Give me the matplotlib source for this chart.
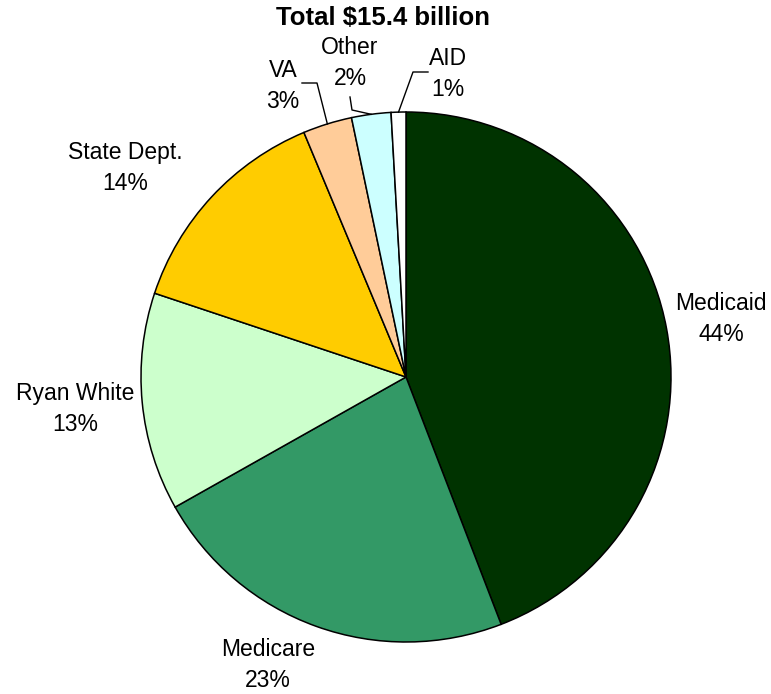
import numpy as np
import matplotlib
matplotlib.use("Agg")
import matplotlib.pyplot as plt

plt.rcParams['font.family'] = ['Liberation Sans', 'DejaVu Sans']

title = "Total $15.4 billion"
categories = ["Medicaid", "Medicare", "Ryan White", "State Dept.", "VA", "Other", "AID"]
shares = [44.2, 22.7, 13.3, 13.6, 3.0, 2.4, 0.9]
colors = ["#003300", "#339966", "#CCFFCC", "#FFCC00", "#FFCC99", "#CCFFFF", "#FFFFFF"]

W, H = 771, 694
fig = plt.figure(figsize=(W / 100, H / 100), dpi=100)
ax = fig.add_axes([0, 0, 1, 1])

cx, cy, R = 406, H - 377, 265
wedges, _ = ax.pie(shares, startangle=90, counterclock=False, colors=colors,
                   center=(cx, cy), radius=R,
                   wedgeprops=dict(edgecolor="black", linewidth=1.1))
ax.set_xlim(0, W)
ax.set_ylim(0, H)
ax.set_aspect("equal")
ax.axis("off")

fs = 16.5
# label centre positions in pixel coords (x, y from top)
label_pos = {
    "Medicaid": (721, 319),
    "Medicare": (268, 665),
    "Ryan White": (75, 409),
    "State Dept.": (125, 168),
    "VA": (283, 86),
    "Other": (350, 63),
    "AID": (448, 74),
}
total = sum(shares)
for cat, val in zip(categories, shares):
    x, y = label_pos[cat]
    ax.text(x, H - y, f"{cat}\n{round(val / total * 100):d}%", ha="center", va="center",
            fontsize=fs, linespacing=1.45, color="black")

ax.text(383, H - 18, title, ha="center", va="center", fontsize=18.5, fontweight="bold")

# leader lines for small slices
def edge_point(w):
    a = np.deg2rad((w.theta1 + w.theta2) / 2)
    return cx + R * np.cos(a), cy + R * np.sin(a)

leaders = {
    "VA": [(302, 83), (317, 83)],
    "Other": [(350, 97), (352, 110)],
    "AID": [(428, 72), (413, 72)],
}
for cat, pts in leaders.items():
    w = wedges[categories.index(cat)]
    ex, ey = edge_point(w)
    xs = [p[0] for p in pts] + [ex]
    ys = [H - p[1] for p in pts] + [ey]
    ax.plot(xs, ys, color="black", linewidth=1)

fig.savefig("out.png", dpi=100)
